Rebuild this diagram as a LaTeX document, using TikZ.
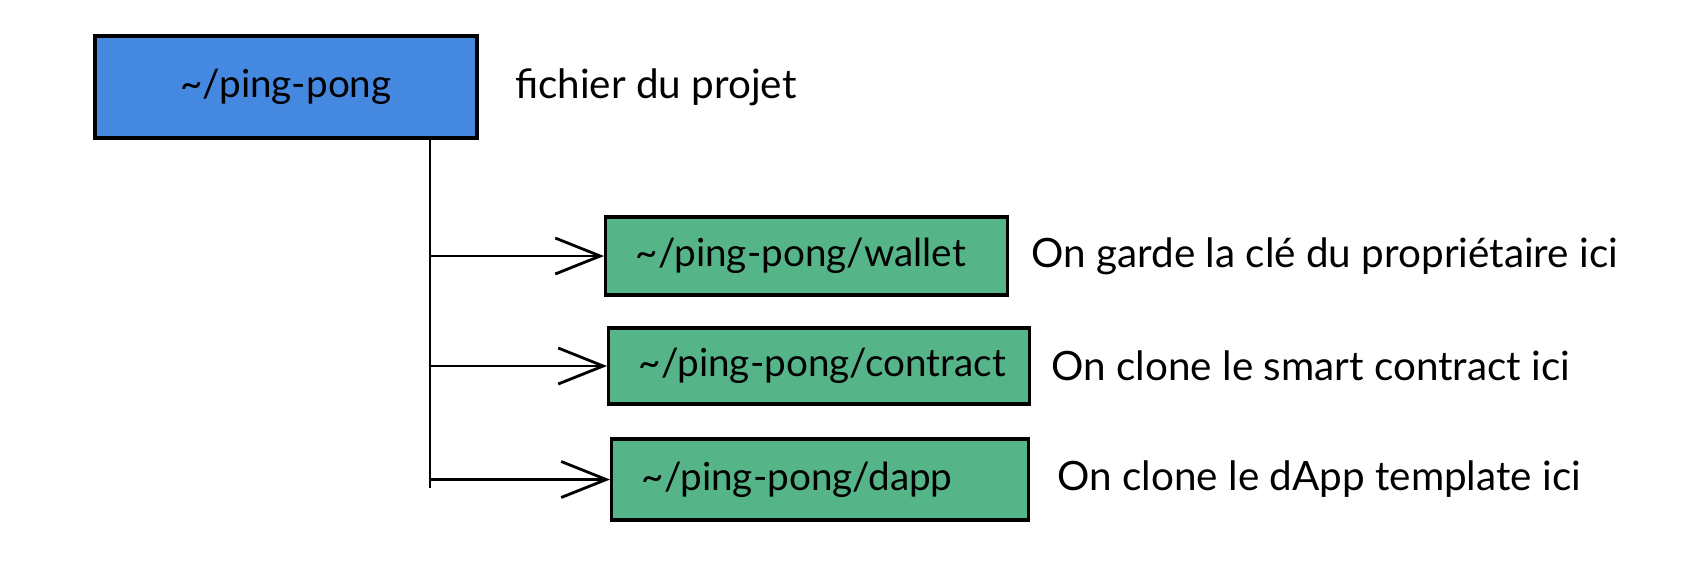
\documentclass[tikz,border=0pt]{standalone}
\usepackage{fontspec}
\setmainfont{Lato}
\usetikzlibrary{arrows.meta,positioning}
\definecolor{rootblue}{HTML}{4588E0}
\definecolor{dirgreen}{HTML}{55B589}

\begin{document}
\begin{tikzpicture}[>={Straight Barb[length=4.5mm,width=3.6mm]}]
    \tikzset{dir/.style={
      draw,
      rectangle,
      line width=0.9pt,
      fill=dirgreen,
      align=left,
      inner xsep=0.2cm,
      minimum height=0.78cm,
      anchor=west,
      font=\fontsize{11}{13}\selectfont
    },
    note/.style={
      align=left,
      font=\fontsize{11.5}{14}\selectfont
    }};

    \useasboundingbox (0,0) rectangle (17,-5.86);

    \node [dir, fill=rootblue, align=center, anchor=center,
      minimum width=3.82cm, minimum height=1.02cm] (root) at (2.86,-0.87) {\textasciitilde/ping-pong};
    \node [note, right=0.24cm of root] (rootnote) {fichier du projet};

    \node [dir, text width=3.62cm] (wallet) at (6.04,-2.56) {\hspace*{0.1cm}\textasciitilde/ping-pong/wallet};
    \node [dir, text width=3.81cm, minimum height=0.76cm] (contract) at (6.07,-3.66) {\hspace*{0.1cm}\textasciitilde/ping-pong/contract};
    \node [dir, text width=3.77cm, minimum height=0.81cm] (dapp) at (6.10,-4.795) {\hspace*{0.1cm}\textasciitilde/ping-pong/dapp};

    \node [note, right=0.1cm of wallet] (walletnote) {On garde la clé du propriétaire ici};
    \node [note, right=0.08cm of contract] (contractnote) {On clone le smart contract ici};
    \node [note, right=0.15cm of dapp] (dappnote) {On clone le dApp template ici};

    \coordinate (trunk) at (4.30,-1.38);
    \coordinate (trunkend) at (4.30,-4.88);

    \draw[line width=0.8pt] (trunk) -- (trunkend);
    \draw[->,line width=0.8pt] (trunk |- wallet.west) -- (wallet.west);
    \draw[->,line width=0.8pt] (trunk |- contract.west) -- (contract.west);
    \draw[->,line width=0.8pt] (trunk |- dapp.west) -- (dapp.west);
\end{tikzpicture}
\end{document}
